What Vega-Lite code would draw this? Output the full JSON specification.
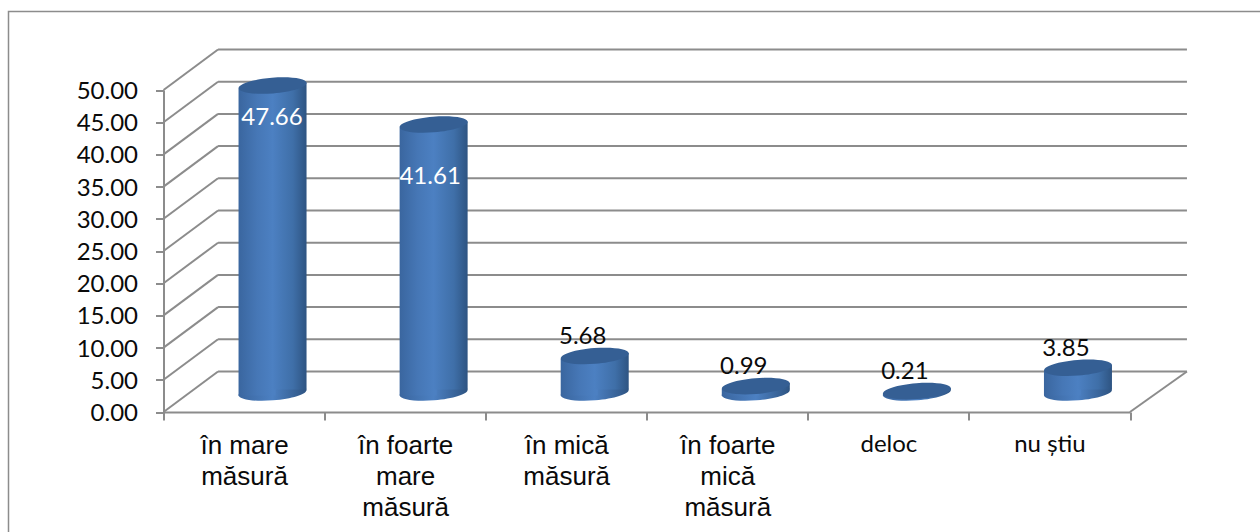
{
  "$schema": "https://vega.github.io/schema/vega-lite/v6.json",
  "width": 1270,
  "height": 530,
  "autosize": "none",
  "padding": {"left": 8.5, "top": 11.5, "right": 0, "bottom": 0},
  "background": "white",
  "view": {"stroke": "#8c8c8c", "strokeWidth": 1.5, "fill": "white"},
  "datasets": {
    "bars": [
      {"category": "în mare măsură", "value": 47.66},
      {"category": "în foarte mare măsură", "value": 41.61},
      {"category": "în mică măsură", "value": 5.68},
      {"category": "în foarte mică măsură", "value": 0.99},
      {"category": "deloc", "value": 0.21},
      {"category": "nu știu", "value": 3.85}
    ],
    "ticks": [{"tick": 0}, {"tick": 5}, {"tick": 10}, {"tick": 15}, {"tick": 20}, {"tick": 25}, {"tick": 30}, {"tick": 35}, {"tick": 40}, {"tick": 45}, {"tick": 50}]
  },
  "layer": [
    {
      "data": {"name": "ticks"},
      "mark": {"type": "rule", "color": "#8c8c8c", "strokeWidth": 2, "xOffset": -26, "x2Offset": 137.5, "yOffset": -40.5, "y2Offset": -40.5},
      "encoding": {
        "x": {
          "datum": "în mare măsură",
          "type": "nominal",
          "title": null,
          "scale": {"type": "band", "domain": ["în mare măsură", "în foarte mare măsură", "în mică măsură", "în foarte mică măsură", "deloc", "nu știu"], "range": [155, 1121.5], "paddingInner": 0, "paddingOuter": 0},
          "axis": {
            "orient": "bottom",
            "offset": -129.5,
            "title": null,
            "domainColor": "#8c8c8c",
            "domainWidth": 2,
            "tickColor": "#8c8c8c",
            "tickWidth": 2,
            "tickSize": 8,
            "tickBand": "extent",
            "labelAngle": 0,
            "labelPadding": 12,
            "labelColor": "#0a0a0a",
            "labelBaseline": "top",
            "labelAlign": "center",
            "labelLimit": 0,
            "labelLineHeight": 31,
            "labelFont": {"condition": {"test": "datum.value == 'deloc' || datum.value == 'nu știu'", "value": "Lato"}, "value": "Liberation Sans"},
            "labelFontSize": {"condition": {"test": "datum.value == 'deloc' || datum.value == 'nu știu'", "value": 24}, "value": 26},
            "labelExpr": "datum.label == 'în mare măsură' ? ['în mare', 'măsură'] : datum.label == 'în foarte mare măsură' ? ['în foarte', 'mare', 'măsură'] : datum.label == 'în mică măsură' ? ['în mică', 'măsură'] : datum.label == 'în foarte mică măsură' ? ['în foarte', 'mică', 'măsură'] : datum.label"
          }
        },
        "x2": {"datum": "nu știu"},
        "y": {
          "field": "tick",
          "type": "quantitative",
          "title": null,
          "scale": {"domain": [0, 50], "range": [400.5, 78.5], "nice": false, "zero": false},
          "axis": {
            "orient": "left",
            "offset": -155,
            "title": null,
            "values": [0, 5, 10, 15, 20, 25, 30, 35, 40, 45, 50],
            "format": ".2f",
            "grid": false,
            "domainColor": "#8c8c8c",
            "domainWidth": 2,
            "tickColor": "#8c8c8c",
            "tickWidth": 2,
            "tickSize": 8,
            "labelPadding": 18,
            "labelOffset": 1.5,
            "labelFont": "Lato",
            "labelFontSize": 24,
            "labelColor": "#0a0a0a"
          }
        },
        "y2": {"field": "tick"}
      }
    },
    {
      "data": {"name": "ticks"},
      "mark": {"type": "rule", "color": "#8c8c8c", "strokeWidth": 2, "xOffset": -80.5, "x2Offset": -26, "yOffset": 0, "y2Offset": -40.5},
      "encoding": {
        "x": {"datum": "în mare măsură", "type": "nominal"},
        "x2": {"datum": "în mare măsură"},
        "y": {"field": "tick", "type": "quantitative"},
        "y2": {"field": "tick"}
      }
    },
    {
      "data": {"name": "ticks"},
      "transform": [{"filter": "datum.tick == 0"}],
      "mark": {"type": "rule", "color": "#8c8c8c", "strokeWidth": 2, "xOffset": 80.5, "x2Offset": 137.5, "yOffset": 0, "y2Offset": -40.5},
      "encoding": {
        "x": {"datum": "nu știu", "type": "nominal"},
        "x2": {"datum": "nu știu"},
        "y": {"field": "tick", "type": "quantitative"},
        "y2": {"field": "tick"}
      }
    },
    {
      "data": {"name": "bars"},
      "mark": {
        "type": "point",
        "shape": "M -1 0.08 A 1 0.23 -4.6 1 1 1 -0.08 A 1 0.23 -4.6 1 1 -1 0.08 Z",
        "size": 4624,
        "filled": true,
        "opacity": 1,
        "strokeWidth": 0,
        "xOffset": 28.5,
        "yOffset": -19.5,
        "fill": {"x1": 0, "x2": 1, "y1": 0, "y2": 0, "gradient": "linear", "stops": [{"offset": 0, "color": "#3a669f"}, {"offset": 0.5, "color": "#4c80c2"}, {"offset": 1, "color": "#2e5482"}]}
      },
      "encoding": {
        "x": {"field": "category", "type": "nominal"},
        "y": {"datum": 0, "type": "quantitative"}
      }
    },
    {
      "data": {"name": "bars"},
      "mark": {
        "type": "bar",
        "width": 37,
        "xOffset": 13,
        "yOffset": -16.5,
        "y2Offset": -16.5,
        "fill": {"x1": 0, "x2": 1, "y1": 0, "y2": 0, "gradient": "linear", "stops": [{"offset": 0, "color": "#3a669f"}, {"offset": 0.5, "color": "#4677b6"}, {"offset": 0.92, "color": "#4c80c2"}, {"offset": 1, "color": "#4c80c2"}]}
      },
      "encoding": {
        "x": {"field": "category", "type": "nominal"},
        "y": {"field": "value", "type": "quantitative", "stack": null},
        "y2": {"datum": 0}
      }
    },
    {
      "data": {"name": "bars"},
      "mark": {
        "type": "bar",
        "width": 34,
        "xOffset": 45.5,
        "yOffset": -22.5,
        "y2Offset": -22.5,
        "fill": {"x1": 0, "x2": 1, "y1": 0, "y2": 0, "gradient": "linear", "stops": [{"offset": 0, "color": "#4c80c2"}, {"offset": 0.6, "color": "#3f6fa8"}, {"offset": 1, "color": "#2e5482"}]}
      },
      "encoding": {
        "x": {"field": "category", "type": "nominal"},
        "y": {"field": "value", "type": "quantitative", "stack": null},
        "y2": {"datum": 0}
      }
    },
    {
      "data": {"name": "bars"},
      "mark": {
        "type": "point",
        "shape": "M -1 0.08 A 1 0.23 -4.6 1 1 1 -0.08 A 1 0.23 -4.6 1 1 -1 0.08 Z",
        "size": 4624,
        "filled": true,
        "opacity": 1,
        "strokeWidth": 0,
        "xOffset": 28.5,
        "yOffset": -19.5,
        "fill": "#355f94"
      },
      "encoding": {
        "x": {"field": "category", "type": "nominal"},
        "y": {"field": "value", "type": "quantitative"}
      }
    },
    {
      "data": {"name": "bars"},
      "transform": [{"filter": "datum.value > 45"}],
      "mark": {"type": "text", "font": "Lato", "fontSize": 24, "color": "white", "align": "center", "baseline": "middle", "dx": 28, "dy": 12.5},
      "encoding": {
        "x": {"field": "category", "type": "nominal"},
        "y": {"field": "value", "type": "quantitative"},
        "text": {"field": "value", "type": "quantitative", "format": ".2f"}
      }
    },
    {
      "data": {"name": "bars"},
      "transform": [{"filter": "datum.value > 10 && datum.value < 45"}],
      "mark": {"type": "text", "font": "Lato", "fontSize": 24, "color": "white", "align": "center", "baseline": "middle", "dx": 25, "dy": 32.5},
      "encoding": {
        "x": {"field": "category", "type": "nominal"},
        "y": {"field": "value", "type": "quantitative"},
        "text": {"field": "value", "type": "quantitative", "format": ".2f"}
      }
    },
    {
      "data": {"name": "bars"},
      "transform": [{"filter": "datum.value < 10"}],
      "mark": {"type": "text", "font": "Lato", "fontSize": 24, "color": "#0a0a0a", "align": "center", "baseline": "middle", "dx": 16.5, "dy": -38.5},
      "encoding": {
        "x": {"field": "category", "type": "nominal"},
        "y": {"field": "value", "type": "quantitative"},
        "text": {"field": "value", "type": "quantitative", "format": ".2f"}
      }
    }
  ]
}
